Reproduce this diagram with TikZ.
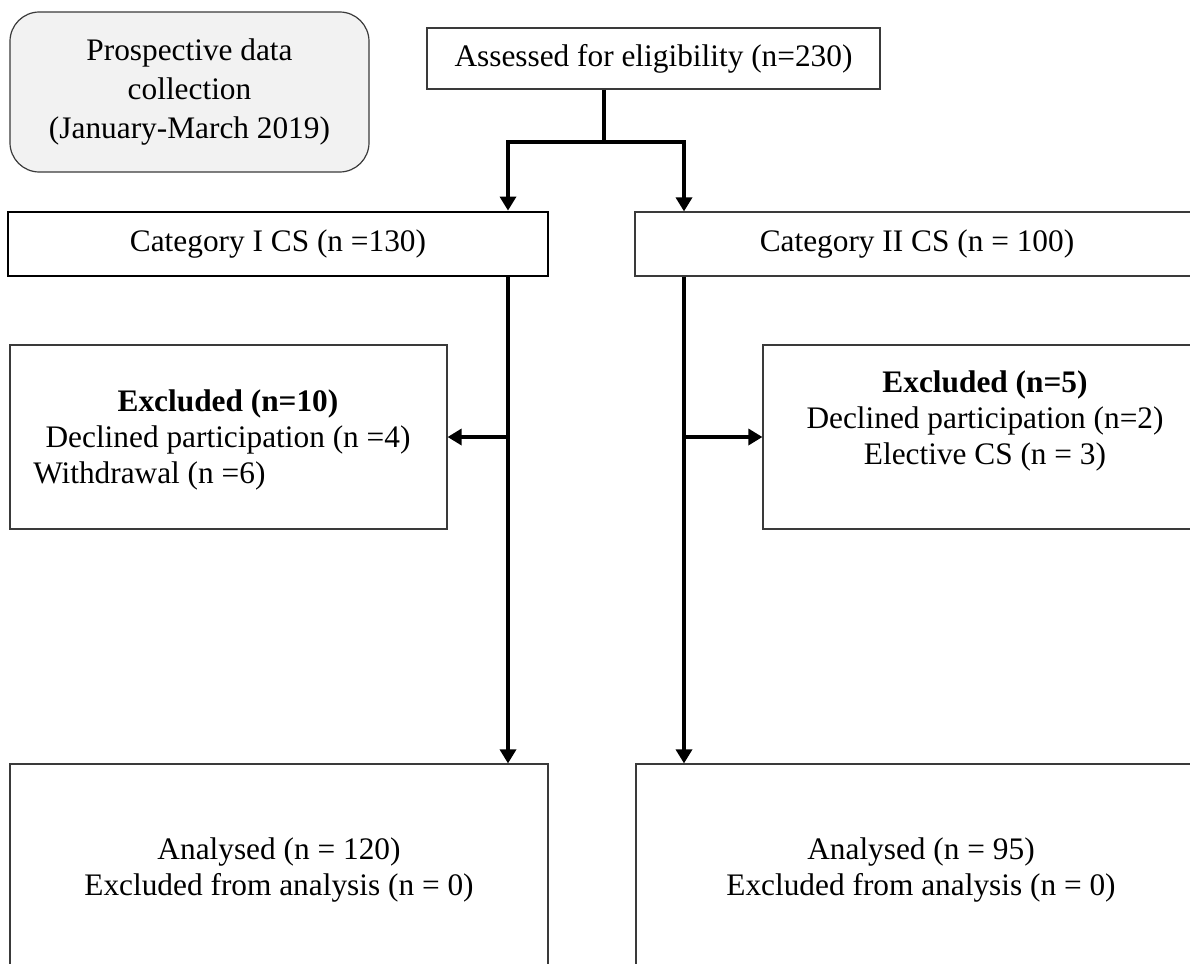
\documentclass[tikz,border=0pt]{standalone}
\usepackage{fontspec}
\setmainfont{Liberation Serif}
\usetikzlibrary{arrows.meta,calc}
\definecolor{pdcfill}{HTML}{F2F2F2}
\definecolor{edgegray}{HTML}{3A3A3A}
\begin{document}
\begin{tikzpicture}[x=0.75pt,y=-0.75pt,
  every node/.style={font=\fontsize{23.5}{27}\selectfont, inner sep=0pt, align=center},
  box/.style={draw=edgegray, line width=0.9pt, rectangle},
  thickbox/.style={draw=black, line width=2.1pt, rectangle},
  conn/.style={line width=2.5pt, black},
  arr/.style={conn, -{Triangle[length=10.5pt,width=12pt]}},
  txt/.style={draw=none}
]
\clip (0,0) rectangle (1190,964);
\useasboundingbox (0,0) rectangle (1190,964);

% boxes
\node[box, rounded corners=22pt, fill=pdcfill, minimum width=269.25pt, minimum height=120pt,
      font=\fontsize{23.5}{29.5}\selectfont] (pdc) at (189.5,92)
  {Prospective data\\collection\\(January-March 2019)};
\node[box, minimum width=339.75pt, minimum height=45.75pt] (assess) at (653.5,58.5)
  {Assessed for eligibility (n=230)};
\node[thickbox, minimum width=405pt, minimum height=48pt] (catI) at (278,244)
  {Category I CS (n =130)};
\node[box, minimum width=423pt, minimum height=48pt] (catII) at (917,244)
  {Category II CS (n = 100)};
\node[box, minimum width=327.75pt, minimum height=138pt] (exL) at (228.5,437) {};
\node[box, minimum width=333pt, minimum height=138pt] (exR) at (985,437) {};
\node[box, minimum width=403.5pt, minimum height=159pt] (anL) at (279,870)
  {Analysed (n = 120)\\Excluded from analysis (n = 0)};
\node[box, minimum width=427.5pt, minimum height=159pt] (anR) at (921,870)
  {Analysed (n = 95)\\Excluded from analysis (n = 0)};

% texts of the exclusion boxes
\node[txt] (exLt) at (228,422) {\textbf{Excluded (n=10)}\\Declined participation (n =4)};
\node[txt, anchor=west] (exLw) at (33,476) {Withdrawal (n =6)};
\node[txt] (exRt) at (985,421) {\textbf{Excluded (n=5)}\\Declined participation (n=2)\\Elective CS (n = 3)};

% connectors
\coordinate (split) at (604,142);
\coordinate (bL) at (508,142);
\coordinate (bR) at (684,142);
\draw[conn] (assess.south -| split) -- (split);
\draw[conn, line cap=rect] (bL) -- (bR);
\draw[arr] (bL) -- (bL |- catI.north);
\draw[arr] (bR) -- (bR |- catII.north);
\draw[arr] (catI.south -| bL) -- (bL |- anL.north);
\draw[arr] (catII.south -| bR) -- (bR |- anR.north);
\draw[arr] (exL.east -| bL) -- (exL.east);
\draw[arr] (exR.west -| bR) -- (exR.west);
\end{tikzpicture}
\end{document}
